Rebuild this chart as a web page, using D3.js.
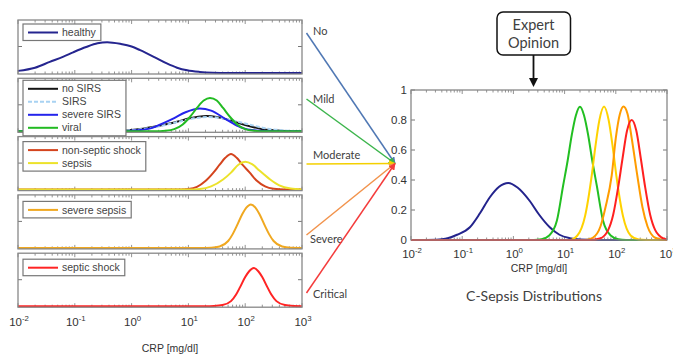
<!DOCTYPE html>
<html>
<head>
<meta charset="utf-8">
<script src="https://cdn.jsdelivr.net/npm/d3@7"></script>
<style>
  body { margin: 0; background: #fff; }
  text { font-family: "Liberation Sans", Arial, sans-serif; fill: #333; }
  .note { font-family: Lato, "Noto Sans", sans-serif; fill: #404040; }
</style>
</head>
<body>
<script>
// CRP is stored as log10(mg/dl), densities as read off the picture
// left panels: share of panel height
var healthy = [[-2,0.04],[-1.7,0.1],[-1.44,0.21],[-1.2,0.31],[-1.03,0.39],[-0.8,0.49],[-0.6,0.56],[-0.43,0.58],[-0.2,0.55],[0,0.5],[0.15,0.43],[0.4,0.3],[0.62,0.18],[0.8,0.1],[0.98,0.05],[1.2,0.02],[1.43,0.005],[1.7,0],[3,0]];
var noSirs = [[-2,0],[-0.5,0],[-0.1,0.02],[0.2,0.05],[0.55,0.12],[0.8,0.18],[1,0.24],[1.15,0.27],[1.32,0.29],[1.5,0.27],[1.7,0.22],[1.9,0.15],[2.1,0.09],[2.3,0.04],[2.5,0.02],[2.8,0],[3,0]];
var sirs = [[-2,0],[-0.5,0],[0,0.02],[0.3,0.06],[0.6,0.12],[0.9,0.2],[1.1,0.245],[1.35,0.27],[1.6,0.245],[1.8,0.2],[2.1,0.12],[2.4,0.05],[2.7,0.015],[3,0]];
var severeSirs = [[-2,0],[-0.2,0],[0.1,0.02],[0.35,0.06],[0.55,0.15],[0.75,0.25],[0.95,0.36],[1.2,0.43],[1.4,0.39],[1.67,0.22],[1.8,0.14],[1.96,0.06],[2.15,0.02],[2.4,0.004],[2.6,0],[3,0]];
var viral = [[-2,0],[0.4,0],[0.6,0.01],[0.75,0.04],[0.9,0.13],[1.03,0.275],[1.15,0.44],[1.27,0.58],[1.38,0.63],[1.5,0.58],[1.61,0.44],[1.73,0.275],[1.86,0.13],[2,0.04],[2.15,0.01],[2.35,0],[3,0]];
var nonSepticShock = [[-2,0],[0.8,0],[1,0.012],[1.15,0.05],[1.3,0.16],[1.44,0.32],[1.55,0.47],[1.65,0.6],[1.75,0.67],[1.85,0.6],[1.95,0.47],[2.08,0.32],[2.2,0.17],[2.35,0.06],[2.5,0.015],[2.7,0],[3,0]];
var sepsis = [[-2,0],[1,0],[1.2,0.01],[1.4,0.06],[1.61,0.19],[1.75,0.32],[1.88,0.47],[2,0.525],[2.12,0.48],[2.25,0.36],[2.44,0.19],[2.6,0.08],[2.8,0.02],[3,0.003]];
var severeSepsis = [[-2,0],[1.2,0],[1.4,0.004],[1.55,0.027],[1.7,0.13],[1.78,0.26],[1.85,0.41],[1.95,0.64],[2.02,0.76],[2.1,0.82],[2.18,0.76],[2.25,0.64],[2.35,0.41],[2.42,0.26],[2.5,0.13],[2.65,0.027],[2.8,0.004],[3,0]];
var septicShock = [[-2,0],[1.3,0],[1.45,0.004],[1.6,0.021],[1.75,0.096],[1.84,0.22],[1.91,0.36],[2,0.55],[2.07,0.66],[2.15,0.72],[2.23,0.66],[2.3,0.55],[2.39,0.36],[2.46,0.22],[2.55,0.096],[2.7,0.021],[2.85,0.004],[3,0]];

// right chart: C-Sepsis distributions (probability)
var severity = ["No", "Mild", "Moderate", "Severe", "Critical"];
var distNo = [[-2,0],[-1.5,0.002],[-1.3,0.01],[-1.1,0.035],[-0.85,0.085],[-0.65,0.18],[-0.46,0.285],[-0.28,0.355],[-0.1,0.38],[0.08,0.35],[0.32,0.26],[0.5,0.17],[0.71,0.085],[0.9,0.035],[1.1,0.012],[1.3,0.003],[1.6,0],[3,0]];
var distMild = [[-2,0],[0.4,0],[0.55,0.005],[0.7,0.03],[0.85,0.13],[0.97,0.36],[1.06,0.53],[1.14,0.7],[1.22,0.83],[1.3,0.888],[1.38,0.83],[1.46,0.7],[1.54,0.53],[1.63,0.36],[1.75,0.13],[1.9,0.03],[2.05,0.005],[2.2,0],[3,0]];
var distModerate = [[-2,0],[1.1,0],[1.25,0.03],[1.4,0.16],[1.53,0.43],[1.6,0.62],[1.68,0.8],[1.77,0.89],[1.86,0.8],[1.94,0.62],[2.01,0.43],[2.14,0.16],[2.29,0.03],[2.45,0.003],[2.6,0],[3,0]];
var distSevere = [[-2,0],[1.4,0],[1.55,0.015],[1.7,0.09],[1.8,0.22],[1.92,0.43],[2,0.68],[2.08,0.84],[2.15,0.89],[2.23,0.84],[2.31,0.68],[2.42,0.43],[2.52,0.22],[2.62,0.09],[2.77,0.015],[2.95,0],[3,0]];
var distCritical = [[-2,0],[1.5,0],[1.69,0.01],[1.85,0.066],[1.95,0.17],[2.05,0.36],[2.13,0.54],[2.22,0.73],[2.31,0.8],[2.4,0.73],[2.49,0.54],[2.57,0.36],[2.67,0.17],[2.77,0.066],[2.93,0.01],[3,0.004]];

var yTicksRight = [0, 0.2, 0.4, 0.6, 0.8, 1];

// tables built from the arrays above
var panels = [
  [["healthy", healthy]],
  [["no SIRS", noSirs], ["SIRS", sirs], ["severe SIRS", severeSirs], ["viral", viral]],
  [["non-septic shock", nonSepticShock], ["sepsis", sepsis]],
  [["severe sepsis", severeSepsis]],
  [["septic shock", septicShock]]
];
var rightSeries = [distNo, distMild, distModerate, distSevere, distCritical];

var colorLeft = {
  "healthy": "#25258f", "no SIRS": "#141414", "SIRS": "#a8d2f2", "severe SIRS": "#2424ec",
  "viral": "#22bb22", "non-septic shock": "#d4441e", "sepsis": "#ece22a",
  "severe sepsis": "#f0a820", "septic shock": "#ff2424"
};
var colorRight = ["#23238c", "#22bf22", "#ffd200", "#ff9c00", "#ff2020"];
var colorArrow = ["#5078b4", "#3cb54c", "#f4d000", "#f2934c", "#f43c3c"];

var svg = d3.select("body").append("svg")
    .attr("width", 673)
    .attr("height", 354);

// ---------- left: five stacked panels ----------
var panelH = 54, panelStep = 58.3, panelTop = 20;
var xl = d3.scaleLog().domain([0.01, 1000]).range([18, 302]);
var yl = d3.scaleLinear().domain([0, 1]).range([panelH - 1, 0]);
var legendDy = [4, 2, 5, 6.5, 6];

var lineLeft = d3.line()
  .x(function(d) { return xl(Math.pow(10, d[0])); })
  .y(function(d) { return yl(d[1]); })
  .curve(d3.curveMonotoneX);

function isDecade(d) { return Math.abs(Math.log10(d) - Math.round(Math.log10(d))) < 1e-6; }

function logTicks(g, x, top, bottom) {
  x.ticks().forEach(function(d) {
    var len = isDecade(d) ? 4 : 2.5;
    g.append("line").attr("x1", x(d)).attr("x2", x(d)).attr("y1", bottom).attr("y2", bottom - len)
      .attr("stroke", "#777").attr("stroke-width", 0.8);
    g.append("line").attr("x1", x(d)).attr("x2", x(d)).attr("y1", top).attr("y2", top + len)
      .attr("stroke", "#777").attr("stroke-width", 0.8);
  });
}

panels.forEach(function(series, i) {
  var g = svg.append("g").attr("transform", "translate(0," + (panelTop + i * panelStep) + ")");

  logTicks(g, xl, 0, panelH);
  // one y tick in the middle, both sides
  g.append("line").attr("x1", 18).attr("x2", 22).attr("y1", yl(0.5)).attr("y2", yl(0.5)).attr("stroke", "#777");
  g.append("line").attr("x1", 302).attr("x2", 298).attr("y1", yl(0.5)).attr("y2", yl(0.5)).attr("stroke", "#777");

  series.forEach(function(s) {
    g.append("path")
      .datum(s[1])
      .attr("fill", "none")
      .attr("stroke", colorLeft[s[0]])
      .attr("stroke-width", 2)
      .attr("stroke-dasharray", s[0] === "SIRS" ? "4,2" : null)
      .attr("d", lineLeft);
  });

  g.append("rect")
    .attr("x", 18).attr("y", 0).attr("width", 284).attr("height", panelH)
    .attr("fill", "none").attr("stroke", "#888").attr("stroke-width", 1.3);

  // legend
  var lg = g.append("g").attr("transform", "translate(23," + legendDy[i] + ")");
  var box = lg.append("rect").attr("fill", "#fff").attr("stroke", "#777").attr("stroke-width", 1.2);
  var maxW = 0;
  series.forEach(function(s, k) {
    var yy = 8.5 + k * 13;
    lg.append("line").attr("x1", 5).attr("x2", 35).attr("y1", yy).attr("y2", yy)
      .attr("stroke", colorLeft[s[0]]).attr("stroke-width", 2)
      .attr("stroke-dasharray", s[0] === "SIRS" ? "4,2" : null);
    var t = lg.append("text").attr("x", 39).attr("y", yy).attr("dy", "0.35em")
      .style("font-size", "10.5px").style("fill", "#444").text(s[0]);
    maxW = Math.max(maxW, t.node().getComputedTextLength());
  });
  box.attr("width", 39 + maxW + 5).attr("height", 16.5 + (series.length - 1) * 13);
});

// bottom axis labels of the stack
function powLabel(g, x, y, d, size) {
  var e = Math.round(Math.log10(d));
  var t = g.append("text").attr("x", x).attr("y", y).attr("text-anchor", "middle").style("font-size", size + "px");
  t.append("tspan").text("10");
  t.append("tspan").attr("dy", -5).style("font-size", (size * 0.68) + "px").text(e);
}
var axLeft = svg.append("g");
xl.ticks().filter(isDecade).forEach(function(d) {
  powLabel(axLeft, xl(d) + 1, 326, d, 11.5);
});
svg.append("text").attr("x", 170).attr("y", 352).attr("text-anchor", "middle")
  .style("font-size", "10.5px").text("CRP [mg/dl]");

// ---------- middle: severity arrows ----------
var arrowStartY = [33, 99, 164, 235, 293];
var labelPos = [[313, 35], [313, 103], [313, 159], [310, 243], [313, 298]];
var target = [395, 163.5];

var defs = svg.append("defs");
colorArrow.forEach(function(c, i) {
  defs.append("marker")
    .attr("id", "ah" + i)
    .attr("viewBox", "0 0 10 10")
    .attr("refX", 9).attr("refY", 5)
    .attr("markerWidth", 7).attr("markerHeight", 7)
    .attr("markerUnits", "userSpaceOnUse")
    .attr("orient", "auto")
    .append("path").attr("d", "M0,0 L10,5 L0,10 z").attr("fill", c);
});

severity.forEach(function(s, i) {
  svg.append("line")
    .attr("x1", 306.5).attr("y1", arrowStartY[i])
    .attr("x2", target[0]).attr("y2", target[1])
    .attr("stroke", colorArrow[i]).attr("stroke-width", 1.5)
    .attr("marker-end", "url(#ah" + i + ")");
  svg.append("text").attr("class", "note")
    .attr("x", labelPos[i][0]).attr("y", labelPos[i][1])
    .style("font-size", "11px").text(s);
});

// ---------- right: C-Sepsis distributions ----------
var xr = d3.scaleLog().domain([0.01, 1000]).range([411, 667]);
var yr = d3.scaleLinear().domain([0, 1]).range([240, 90]);

var lineRight = d3.line()
  .x(function(d) { return xr(Math.pow(10, d[0])); })
  .y(function(d) { return yr(d[1]); })
  .curve(d3.curveMonotoneX);

var gr = svg.append("g");
logTicks(gr, xr, 90, 240);
yTicksRight.forEach(function(v) {
  gr.append("line").attr("x1", 411).attr("x2", 415).attr("y1", yr(v)).attr("y2", yr(v)).attr("stroke", "#777");
  gr.append("line").attr("x1", 667).attr("x2", 663).attr("y1", yr(v)).attr("y2", yr(v)).attr("stroke", "#777");
  gr.append("text").attr("x", 407).attr("y", yr(v)).attr("dy", "0.35em").attr("text-anchor", "end")
    .style("font-size", "11.5px").text(d3.format("")(v));
});

rightSeries.forEach(function(s, i) {
  gr.append("path")
    .datum(s)
    .attr("fill", "none")
    .attr("stroke", colorRight[i])
    .attr("stroke-width", 2)
    .attr("d", lineRight);
});

gr.append("rect").attr("x", 411).attr("y", 90).attr("width", 256).attr("height", 150)
  .attr("fill", "none").attr("stroke", "#888").attr("stroke-width", 1.3);

xr.ticks().filter(isDecade).forEach(function(d) {
  powLabel(gr, xr(d) + 1, 257.5, d, 11.5);
});
gr.append("text").attr("x", 539).attr("y", 271.5).attr("text-anchor", "middle")
  .style("font-size", "10.5px").text("CRP [mg/dl]");

svg.append("text").attr("class", "note").attr("x", 534).attr("y", 301).attr("text-anchor", "middle")
  .style("font-size", "14px").text("C-Sepsis Distributions");

// Expert Opinion box + arrow
svg.append("rect").attr("x", 497).attr("y", 12).attr("width", 73.5).attr("height", 43)
  .attr("rx", 6).attr("fill", "#fff").attr("stroke", "#111").attr("stroke-width", 1.5);
svg.append("text").attr("class", "note").attr("x", 533.5).attr("y", 30).attr("text-anchor", "middle")
  .style("font-size", "14.5px").text("Expert");
svg.append("text").attr("class", "note").attr("x", 533.5).attr("y", 48).attr("text-anchor", "middle")
  .style("font-size", "14.5px").text("Opinion");
svg.append("line").attr("x1", 533.5).attr("x2", 533.5).attr("y1", 55).attr("y2", 80)
  .attr("stroke", "#111").attr("stroke-width", 1.8);
svg.append("path").attr("d", "M529,78 L538,78 L533.5,87 Z").attr("fill", "#111");
</script>
</body>
</html>
